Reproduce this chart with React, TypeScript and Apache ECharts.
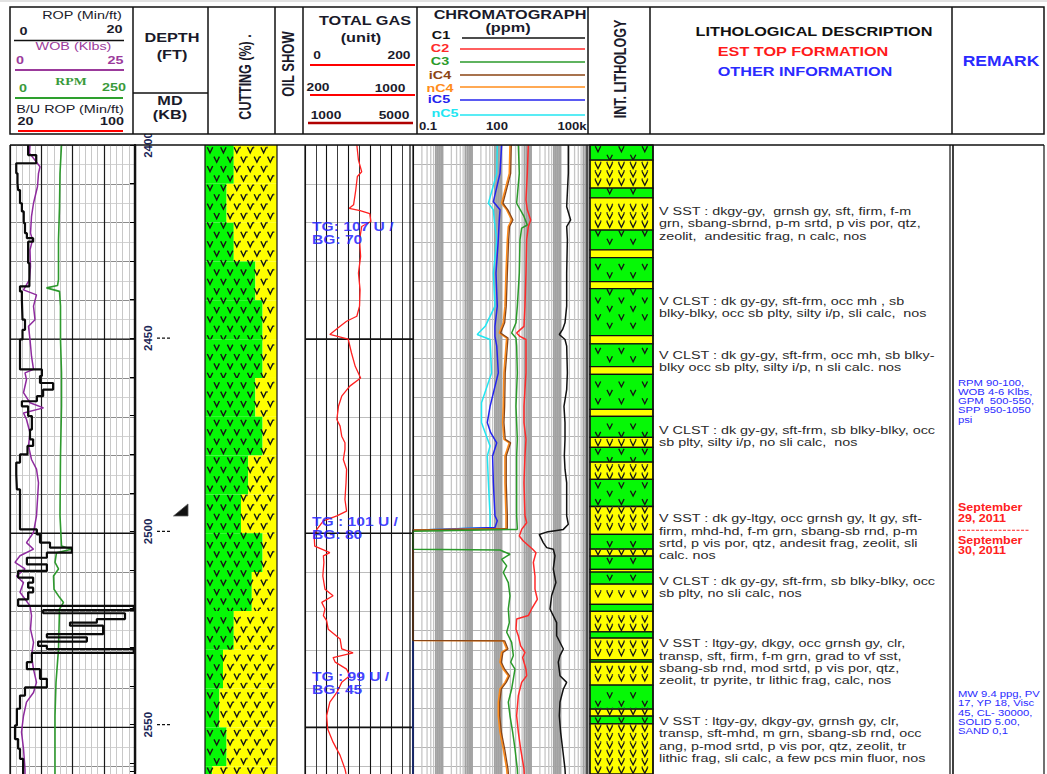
import React, { useEffect, useRef } from "react";
import * as echarts from "echarts";

const FONT = 'Arial, "Liberation Sans", Helvetica, sans-serif';
const SERIF = '"Times New Roman", "Liberation Serif", serif';
const SX = 1.25;

// ---------------- depth frame ----------------
const DEPTH_MIN = 2400;
const DEPTH_MAX = 2562;
const PX_PER_FT = 3.89;
const TOP = 145;
const GRID_H = (DEPTH_MAX - DEPTH_MIN) * PX_PER_FT;
const majorDepths = [2450, 2500, 2550];
const casingShoeDepth = [2496];

// ---------------- drilling parameters ----------------
const ropTop = [2400.0, 2402.6, 2404.7, 2407.3, 2409.9, 2411.6, 2415.0, 2417.1, 2420.1, 2422.7, 2424.0, 2424.9, 2430.4, 2436.4, 2437.7, 2439.9, 2445.0, 2447.6, 2450.1, 2457.8, 2459.5, 2461.3, 2463.0, 2464.7, 2466.0, 2467.3, 2469.8, 2473.3, 2475.8, 2477.5, 2479.7, 2481.8, 2484.8, 2488.7, 2499.0, 2500.3, 2502.4, 2503.7, 2505.0, 2506.3, 2508.0, 2509.7, 2511.4, 2512.7, 2514.0, 2515.2, 2517.0, 2518.7, 2519.8, 2520.6, 2522.1, 2523.0, 2523.8, 2526.0, 2526.8, 2527.9, 2529.0, 2529.8, 2530.8, 2533.2, 2535.0, 2537.5, 2539.7, 2541.8, 2545.2, 2549.5, 2553.0, 2555.5, 2558.1];
const ropVal = [2.9, 4.2, 1.0, 1.2, 1.3, 1.6, 1.9, 2.2, 2.4, 2.7, 3.7, 2.9, 3.1, 1.6, 1.9, 2.0, 2.4, 2.0, 1.6, 5.1, 4.8, 6.9, 5.3, 4.3, 1.9, 2.9, 3.5, 3.2, 3.7, 2.8, 1.6, 1.0, 1.1, 1.6, 4.3, 4.8, 6.4, 9.9, 5.9, 2.7, 5.9, 1.3, 3.7, 2.9, 3.7, 2.9, 1.3, 19.8, 5.3, 18.4, 13.9, 9.6, 14.9, 5.9, 12.3, 4.5, 5.9, 19.8, 3.5, 2.7, 4.8, 5.9, 2.4, 1.6, 1.1, 0.8, 1.3, 1.6, 2.1];

const wobDepth = [2400.0, 2402.1, 2405.6, 2407.3, 2410.7, 2415.0, 2418.4, 2422.7, 2424.4, 2427.0, 2431.3, 2434.7, 2437.3, 2438.6, 2441.5, 2445.0, 2446.7, 2450.1, 2454.4, 2457.8, 2458.7, 2460.4, 2463.8, 2466.4, 2467.7, 2469.0, 2470.7, 2474.1, 2477.5, 2481.0, 2483.5, 2487.0, 2491.3, 2495.5, 2499.8, 2502.4, 2504.1, 2505.8, 2507.5, 2509.2, 2511.0, 2512.7, 2515.2, 2518.7, 2521.2, 2524.7, 2528.1, 2531.5, 2535.0, 2538.4, 2541.0, 2543.5, 2547.0, 2551.2, 2555.5, 2560.7, 2562];
const wobVal = [4.0, 3.9, 6.0, 5.7, 5.5, 4.7, 4.3, 4.1, 4.5, 4.0, 4.1, 3.9, 2.7, 5.3, 4.7, 5.0, 3.7, 4.0, 4.3, 4.7, 3.0, 3.3, 2.7, 4.0, 6.7, 2.7, 3.3, 4.0, 3.7, 4.3, 5.3, 5.7, 5.5, 5.3, 4.7, 3.3, 4.7, 2.0, 1.0, 3.0, 1.3, 2.7, 2.0, 4.0, 4.3, 4.1, 4.7, 4.3, 4.7, 5.3, 4.7, 3.3, 2.7, 2.3, 2.7, 3.0, 3.0];

const rpmDepth = [2400.0, 2407.3, 2415.9, 2424.4, 2434.7, 2436.2, 2436.8, 2437.7, 2441.5, 2450.1, 2458.7, 2467.3, 2480.1, 2495.5, 2503.3, 2504.1, 2505.0, 2507.5, 2509.2, 2511.0, 2514.4, 2516.5, 2517.8, 2519.5, 2529.8, 2538.4, 2547.0, 2562];
const rpmVal = [103, 100, 99, 97, 97, 95, 73, 99, 101, 101, 103, 103, 101, 100, 103, 123, 93, 90, 97, 87, 88, 99, 107, 99, 97, 92, 90, 90];

// ---------------- cuttings (% claystone, remainder sandstone) ----------------
const cutTop = [2400, 2410, 2420, 2430, 2440, 2450, 2460, 2470, 2480, 2490, 2500, 2510, 2520, 2530, 2540, 2550, 2560];
const cutClst = [40, 30, 40, 70, 80, 80, 70, 80, 60, 50, 80, 65, 40, 25, 20, 30, 10];

// ---------------- total gas (unit) ----------------
const gasDepth = [2400.0, 2403.9, 2406.9, 2408.1, 2411.6, 2415.4, 2416.3, 2416.9, 2417.7, 2419.7, 2421.0, 2424.4, 2428.7, 2433.0, 2437.3, 2441.5, 2444.1, 2445.4, 2446.7, 2448.8, 2450.0, 2453.5, 2457.0, 2460.0, 2462.1, 2464.7, 2467.3, 2470.7, 2472.4, 2475.0, 2476.7, 2478.4, 2481.0, 2483.5, 2487.0, 2491.3, 2494.3, 2495.5, 2496.8, 2499.0, 2500.7, 2503.3, 2505.0, 2505.8, 2507.5, 2511.0, 2514.4, 2516.1, 2517.8, 2519.5, 2521.2, 2522.5, 2524.7, 2527.2, 2529.8, 2530.8, 2532.0, 2533.2, 2535.0, 2536.7, 2538.4, 2541.0, 2543.5, 2547.0, 2550.4, 2553.8, 2557.2, 2560.7, 2562];
const gasVal = [96, 99, 105, 97, 94, 90, 82, 102, 120, 122, 105, 101, 103, 99, 102, 101, 96, 77, 65, 46, 80, 86, 93, 103, 83, 68, 62, 59, 65, 68, 74, 74, 71, 77, 76, 74, 77, 59, 34, 22, 17, 18, 46, 34, 35, 33, 37, 52, 31, 37, 34, 40, 43, 65, 68, 89, 52, 56, 77, 83, 68, 59, 46, 40, 42, 52, 65, 74, 76];
const tgDepth = [2421.0, 2497.1, 2536.9];
const tgText = [["TG: 107 U /", "BG: 70"], ["TG : 101 U /", "BG: 80"], ["TG : 99 U /", "BG: 45"]];

// ---------------- chromatograph (ppm) ----------------
const c1Depth = [2400.0, 2407.3, 2415.9, 2419.3, 2421.0, 2424.4, 2433.0, 2441.5, 2445.8, 2447.5, 2448.8, 2450.1, 2451.8, 2458.7, 2463.0, 2467.3, 2471.5, 2475.8, 2480.1, 2483.5, 2487.0, 2495.5, 2497.7, 2499.0, 2499.7, 2500.3, 2502.4, 2503.7, 2504.1, 2505.8, 2509.2, 2512.7, 2516.1, 2519.5, 2523.0, 2526.4, 2529.8, 2531.5, 2533.2, 2536.7, 2538.4, 2540.1, 2543.5, 2547.0, 2551.2, 2555.5, 2560.7, 2562];
const c1Val = [18400, 18400, 16200, 22100, 16200, 17100, 16200, 16200, 14200, 11800, 9100, 14200, 16200, 17100, 16200, 13100, 14200, 14200, 13500, 14200, 16200, 16200, 18400, 12500, 3400, 1900, 2600, 3400, 5700, 6500, 5700, 7000, 5000, 4400, 7400, 7400, 12500, 9600, 8400, 9600, 16200, 12500, 9600, 9100, 10100, 11800, 14200, 14500];
const c2Depth = [2400.0, 2407.3, 2414.1, 2416.7, 2419.3, 2421.0, 2424.4, 2433.0, 2441.5, 2446.7, 2448.4, 2449.3, 2450.1, 2458.7, 2467.3, 2471.5, 2475.8, 2480.1, 2487.0, 2495.5, 2497.3, 2499.0, 2500.7, 2502.0, 2504.1, 2505.0, 2507.5, 2511.0, 2514.4, 2517.0, 2519.5, 2521.2, 2522.1, 2524.7, 2526.4, 2529.0, 2530.7, 2532.0, 2535.0, 2536.7, 2538.4, 2541.8, 2547.0, 2551.2, 2555.5, 2560.7, 2562];
const c2Val = [811, 750, 676, 750, 973, 811, 713, 676, 625, 578, 326, 424, 676, 676, 578, 578, 676, 625, 578, 625, 713, 482, 402, 549, 1140, 1475, 1200, 1365, 1365, 1637, 1050, 811, 326, 310, 372, 446, 625, 521, 676, 713, 482, 372, 326, 372, 446, 578, 590];
const c3Depth = [2400.0, 2407.3, 2415.0, 2418.4, 2420.6, 2421.4, 2424.4, 2433.0, 2441.5, 2445.8, 2448.4, 2449.7, 2451.8, 2458.7, 2467.3, 2475.8, 2480.1, 2487.0, 2495.5, 2499.0, 2499.5, 2504.1, 2504.3, 2505.4, 2506.7, 2508.4, 2510.1, 2512.7, 2516.1, 2519.5, 2523.0, 2525.5, 2528.1, 2531.5, 2533.2, 2535.0, 2537.5, 2540.1, 2543.5, 2547.0, 2551.2, 2555.5, 2560.7, 2562];
const c3Val = [372, 402, 326, 578, 750, 482, 424, 402, 344, 310, 221, 310, 326, 344, 310, 344, 326, 326, 326, 344, 0.1, 0.1, 89, 194, 101, 150, 115, 170, 194, 170, 184, 150, 221, 252, 205, 286, 252, 221, 170, 194, 239, 286, 344, 350];
const c4Depth = [2400.0, 2407.3, 2415.0, 2416.7, 2419.3, 2421.0, 2424.4, 2433.0, 2441.5, 2445.8, 2448.4, 2449.7, 2451.8, 2458.7, 2467.3, 2471.5, 2475.8, 2476.7, 2480.1, 2487.0, 2495.5, 2498.8, 2499.2, 2527.6, 2527.7, 2529.8, 2530.7, 2533.2, 2535.0, 2536.7, 2538.4, 2540.1, 2543.5, 2547.0, 2551.2, 2555.5, 2560.7, 2562];
const nc4Val = [194, 184, 101, 150, 221, 170, 158, 142, 131, 115, 84, 150, 142, 121, 115, 109, 121, 184, 131, 131, 142, 142, 0.1, 0.1, 115, 150, 101, 89, 115, 170, 131, 89, 78, 78, 89, 115, 150, 155];
const ic4Val = [215, 205, 112, 165, 245, 188, 175, 158, 145, 128, 93, 166, 158, 134, 128, 121, 134, 204, 145, 145, 158, 158, 0.1, 0.1, 128, 166, 112, 99, 128, 188, 145, 99, 87, 87, 99, 128, 166, 172];
const ic5Depth = [2400.0, 2407.3, 2414.6, 2416.7, 2419.3, 2424.4, 2433.0, 2441.5, 2446.7, 2449.3, 2451.8, 2458.7, 2467.3, 2471.5, 2474.1, 2476.7, 2480.1, 2487.0, 2495.5, 2496.8, 2498.5, 2499.2, 2562];
const ic5Val = [101, 89, 53, 89, 84, 78, 65, 72, 60, 60, 69, 78, 41, 33, 43, 69, 50, 53, 60, 72, 60, 0.1, 0.1];
const nc5Depth = [2400.0, 2407.3, 2415.0, 2416.7, 2419.3, 2424.4, 2433.0, 2441.5, 2446.7, 2448.8, 2450.1, 2458.7, 2466.4, 2471.5, 2474.1, 2477.5, 2480.1, 2487.0, 2495.5, 2498.5, 2499.2, 2562];
const nc5Val = [72, 69, 36, 53, 57, 69, 53, 60, 28, 15, 41, 46, 21, 21, 28, 41, 33, 36, 41, 41, 0.1, 0.1];

// ---------------- interpreted lithology ----------------
const litTop = [2400, 2403.9, 2411.1, 2413.6, 2421.9, 2427.0, 2429.0, 2435.2, 2437.0, 2449.1, 2451.2, 2457.1, 2459.1, 2468.1, 2469.9, 2475.3, 2477.9, 2481.7, 2486.1, 2493.1, 2500.3, 2504.1, 2505.9, 2509.3, 2510.0, 2513.1, 2518.3, 2520.1, 2525.4, 2527.0, 2532.6, 2533.2, 2539.1, 2545.3, 2547.1, 2549.1];
const litType = ["CLST", "SST", "CLST", "SST", "CLST", "SST", "CLST", "SST", "CLST", "SST", "CLST", "SST", "CLST", "SST", "CLST", "SST", "CLST", "SST", "CLST", "SST", "CLST", "SST", "CLST", "SST", "CLST", "SST", "CLST", "SST", "CLST", "SST", "CLST", "SST", "CLST", "SST", "CLST", "SST"];

// ---------------- descriptions & remarks ----------------
const descDepth = [2417.0, 2440.1, 2454.0, 2473.3, 2496.1, 2512.3, 2528.3, 2548.3];
const descLines = [
  ["V SST : dkgy-gy,  grnsh gy, sft, firm, f-m", "grn, sbang-sbrnd, p-m srtd, p vis por, qtz,", "zeolit,  andesitic frag, n calc, nos"],
  ["V CLST : dk gy-gy, sft-frm, occ mh , sb", "blky-blky, occ sb plty, silty i/p, sli calc,  nos"],
  ["V CLST : dk gy-gy, sft-frm, occ mh, sb blky-", "blky occ sb plty, silty i/p, n sli calc. nos"],
  ["V CLST : dk gy-gy, sft-frm, sb blky-blky, occ", "sb plty, silty i/p, no sli calc,  nos"],
  ["V SST : dk gy-ltgy, occ grnsh gy, lt gy, sft-", "firm, mhd-hd, f-m grn, sbang-sb rnd, p-m", "srtd, p vis por, qtz, andesit frag, zeolit, sli", "calc. nos"],
  ["V CLST : dk gy-gy, sft-frm, sb blky-blky, occ", "sb plty, no sli calc, nos"],
  ["V SST : ltgy-gy, dkgy, occ grnsh gy, clr,", "transp, sft, firm, f-m grn, grad to vf sst,", "sbang-sb rnd, mod srtd, p vis por, qtz,", "zeolit, tr pyrite, tr lithic frag, calc, nos"],
  ["V SST : ltgy-gy, dkgy-gy, grnsh gy, clr,", "transp, sft-mhd, m grn, sbang-sb rnd, occ", "ang, p-mod srtd, p vis por, qtz, zeolit, tr", "lithic frag, sli calc, a few pcs min fluor, nos"],
];
const remarkDepth = [2461.2, 2493.3, 2541.4];
const remarkKind = ["info", "date", "info"];
const remarkLines = [
  ["RPM 90-100,", "WOB 4-6 Klbs,", "GPM  500-550,", "SPP 950-1050", "psi"],
  ["September", "29, 2011", "September", "30, 2011"],
  ["MW 9.4 ppg, PV", "17, YP 18, Visc", "45, CL- 30000,", "SOLID 5.00,", "SAND 0,1"],
];

const GREEN = "#06f806";
const YELLOW = "#ffff00";

function vGlyph(cx: number, cy: number, hw: number, hh: number, lw: number) {
  return {
    type: "polyline",
    shape: { points: [[cx - hw, cy - hh], [cx, cy + hh], [cx + hw, cy - hh]] },
    style: { stroke: "#151515", fill: "none", lineWidth: lw },
  };
}

function txtEl(x: number, y: number, text: string, o: any = {}) {
  const rot = o.rot || 0;
  const al = o.align || "center";
  return {
    type: "text",
    x,
    y,
    rotation: rot,
    scaleX: rot ? 1 : o.sx ?? SX,
    scaleY: rot ? o.sx ?? SX : 1,
    z: 60,
    silent: true,
    style: {
      text,
      x: 0,
      y: 0,
      fill: o.color || "#1a1a2a",
      font: `${o.weight || "bold"} ${o.size || 13}px ${o.family || FONT}`,
      textAlign: al,
      textVerticalAlign: "middle",
      align: al,
      verticalAlign: "middle",
    },
  };
}
function hl(x1: number, x2: number, y: number, color = "#111", w = 1.5, z = 60) {
  return { type: "line", z, silent: true, shape: { x1, y1: y, x2, y2: y }, style: { stroke: color, lineWidth: w } };
}
function vl(x: number, y1: number, y2: number, color = "#111", w = 1.5, z = 60) {
  return { type: "line", z, silent: true, shape: { x1: x, y1, x2: x, y2 }, style: { stroke: color, lineWidth: w } };
}

function buildHeader() {
  const g: any[] = [];
  g.push({ type: "rect", z: 2, silent: true, shape: { x: 0, y: 0, width: 1047, height: 2 }, style: { fill: "#e2e2e2" } });
  g.push({ type: "rect", z: 58, silent: true, shape: { x: 10, y: 7, width: 1034, height: 127 }, style: { fill: "#fff", stroke: "#111", lineWidth: 1.5 } });
  [133, 208, 275, 303, 417, 588, 650, 952].forEach((x) => g.push(vl(x, 7, 134)));
  g.push(hl(133, 208, 93));
  // track 1
  g.push(txtEl(82, 15, "ROP (Min/ft)", { weight: "normal", size: 11.5 }));
  g.push(txtEl(23.5, 31, "0", { size: 11.5 }));
  g.push(txtEl(114.5, 29, "20", { size: 11.5 }));
  g.push(hl(14, 124, 40.5, "#111", 1.5));
  g.push(txtEl(73.5, 46, "WOB (Klbs)", { weight: "normal", size: 11.5, color: "#9b3a9b" }));
  g.push(txtEl(20, 60, "0", { size: 11.5, color: "#9b3a9b" }));
  g.push(txtEl(115.5, 60, "25", { size: 11.5, color: "#9b3a9b" }));
  g.push(hl(15, 124, 70, "#9b3a9b", 1.8));
  g.push(txtEl(71, 81, "RPM", { size: 11, family: SERIF, color: "#3a9a3a" }));
  g.push(txtEl(23, 88, "0", { size: 11.5, color: "#3a9a3a" }));
  g.push(txtEl(114, 87, "250", { size: 11.5, color: "#3a9a3a" }));
  g.push(hl(15, 123, 98, "#2ea02e", 1.8));
  g.push(txtEl(70, 109, "B/U ROP (Min/ft)", { weight: "normal", size: 11.5 }));
  g.push(txtEl(25.5, 121, "20", { size: 11.5 }));
  g.push(txtEl(112, 121, "100", { size: 11.5 }));
  g.push(hl(18, 123, 131, "#ff0000", 1.8));
  // depth
  g.push(txtEl(172, 38, "DEPTH"));
  g.push(txtEl(172, 55, "(FT)"));
  g.push(txtEl(170, 101, "MD"));
  g.push(txtEl(170, 115, "(KB)"));
  // cutting & oil show
  g.push(txtEl(245, 77, "CUTTING (%) .", { rot: Math.PI / 2, size: 12.5 }));
  g.push(txtEl(288, 64, "OIL SHOW", { rot: Math.PI / 2, size: 13 }));
  // total gas
  g.push(txtEl(365, 21, "TOTAL GAS"));
  g.push(txtEl(361, 38, "(unit)"));
  g.push(txtEl(317, 55, "0", { size: 11 }));
  g.push(txtEl(399, 55, "200", { size: 11 }));
  g.push(hl(310, 415, 65, "#ff0000", 2));
  g.push(txtEl(318, 87, "200", { size: 11 }));
  g.push(txtEl(390, 88, "1000", { size: 11 }));
  g.push(hl(310, 415, 95, "#ff0000", 2));
  g.push(txtEl(326, 115, "1000", { size: 11 }));
  g.push(txtEl(394, 115, "5000", { size: 11 }));
  g.push(hl(308, 413, 123, "#b00000", 2.5));
  // chromatograph
  g.push(txtEl(510, 15, "CHROMATOGRAPH"));
  g.push(txtEl(508, 28, "(ppm)"));
  const leg = [
    ["C1", "#111111", 441, 35, 462, 38],
    ["C2", "#ff2a2a", 440, 48, 460, 49],
    ["C3", "#2a9a2a", 440, 61, 460, 62],
    ["iC4", "#8b4513", 440, 75, 460, 75],
    ["nC4", "#ff8c1a", 440, 88, 460, 87],
    ["iC5", "#2323ee", 439, 99.5, 460, 100],
    ["nC5", "#22e6f2", 445, 113.5, 460, 115],
  ];
  leg.forEach(([t, c, tx, ty, lx, ly]: any) => {
    g.push(txtEl(tx, ty, t, { size: 11.5, color: c }));
    g.push(hl(lx, 585, ly, c, 1.5));
  });
  g.push(txtEl(428, 126, "0.1", { size: 10.5 }));
  g.push(txtEl(497, 126, "100", { size: 10.5 }));
  g.push(txtEl(572, 126, "100k", { size: 10.5 }));
  // lithology
  g.push(txtEl(620, 69, "INT. LITHOLOGY", { rot: Math.PI / 2, size: 12.5 }));
  g.push(txtEl(814, 32, "LITHOLOGICAL DESCRIPTION", { color: "#111" }));
  g.push(txtEl(803, 52, "EST TOP FORMATION", { color: "#ff1a1a" }));
  g.push(txtEl(805, 72, "OTHER INFORMATION", { color: "#2a2aff" }));
  g.push(txtEl(1001, 61, "REMARK", { size: 14, color: "#2a2aff" }));

  // data-area frame
  const yb = 774;
  g.push(hl(10, 1044, TOP, "#111", 1.5, 55));
  [
    [10, 1.2], [135, 2.2], [205, 1.2], [277, 1.2], [305, 1.2], [410, 1.2], [413, 1.2],
    [587, 1.2], [590, 1.2], [653, 1.5], [950, 1.2], [953, 1.6], [1044, 1.2],
  ].forEach(([x, w]) => g.push(vl(x, TOP, yb, "#111", w, 55)));
  return g;
}

function buildOption() {
  const tracks = [
    [10, 125], // 0 drilling
    [135, 37], // 1 depth
    [205, 72], // 2 cutting
    [305, 108], // 3 total gas
    [413, 177], // 4 chromatograph
    [590, 63], // 5 lithology
    [653, 297], // 6 description
    [953, 91], // 7 remark
  ];
  const grid = tracks.map(([l, w]) => ({ left: l, top: TOP, width: w, height: GRID_H, show: false, containLabel: false }));

  const yBase = (i: number, extra: any = {}) => ({
    type: "value", gridIndex: i, min: DEPTH_MIN, max: DEPTH_MAX, inverse: true, interval: 10,
    axisLine: { show: false }, axisTick: { show: false }, axisLabel: { show: false }, splitLine: { show: false },
    ...extra,
  });
  const yAxis = [
    yBase(0, {
      splitLine: { show: true, lineStyle: { color: "#8c8c8c", width: 1 } },
      minorTick: { show: false, splitNumber: 2 },
      minorSplitLine: { show: true, lineStyle: { color: "#d2d2d2", width: 1 } },
    }),
    yBase(1, {
      position: "right",
      axisLine: { show: true, lineStyle: { color: "#000", width: 2.2 } },
      axisTick: { show: true, inside: true, length: 5, lineStyle: { color: "#000", width: 1 } },
      axisLabel: {
        show: true, inside: true, rotate: 90, margin: 18,
        formatter: (v: number) => (v % 50 === 0 ? String(v) : ""),
        color: "#1c2757", fontSize: 11.5, fontWeight: "bold", fontFamily: FONT,
      },
    }),
    yBase(2),
    yBase(3, { splitLine: { show: true, lineStyle: { color: "#bdbdbd", width: 1 } } }),
    yBase(4, { interval: 5, splitLine: { show: true, lineStyle: { color: "#b4b4b4", width: 1.2 } } }),
    yBase(5),
    yBase(6),
    yBase(7),
  ];

  const xHidden = (gi: number, min: number, max: number) => ({ type: "value", gridIndex: gi, min, max, show: false });
  const xAxis = [
    {
      type: "value", gridIndex: 0, min: 0, max: 20, interval: 5,
      axisLine: { show: false }, axisTick: { show: false }, axisLabel: { show: false },
      splitLine: { show: true, lineStyle: { color: "#1a1a1a", width: 1.2 } },
      minorTick: { show: false, splitNumber: 5 },
      minorSplitLine: { show: true, lineStyle: { color: "#c8c8c8", width: 1 } },
    },
    xHidden(0, 0, 25),
    xHidden(0, 0, 250),
    xHidden(1, 0, 1),
    xHidden(2, 0, 100),
    {
      type: "value", gridIndex: 3, min: 0, max: 200, interval: 40,
      axisLine: { show: false }, axisTick: { show: false }, axisLabel: { show: false },
      splitLine: { show: true, lineStyle: { color: "#111", width: 1.1 } },
      minorTick: { show: false, splitNumber: 2 },
      minorSplitLine: { show: true, lineStyle: { color: "#3c3c3c", width: 1 } },
    },
    { type: "log", logBase: 10, gridIndex: 4, min: 0.1, max: 100000, show: false },
    xHidden(5, 0, 1),
    xHidden(6, 0, 1),
    xHidden(7, 0, 1),
  ];

  // log-cycle grid positions of the chromatograph scale: [value, depth, multiplier]
  const decades = [0.1, 1, 10, 100, 1000, 10000];
  const chromaGrid: number[][] = [];
  decades.forEach((d, di) => {
    for (let m = 1; m <= 9; m++) if (!(di === 0 && m === 1)) chromaGrid.push([d * m, DEPTH_MIN, m]);
  });

  const series: any[] = [];

  // chromatograph vertical grid
  series.push({
    type: "custom", xAxisIndex: 6, yAxisIndex: 4, silent: true, z: 1,
    data: chromaGrid,
    renderItem: (params: any, api: any) => {
      const cs = params.coordSys;
      const x = api.coord([api.value(0), DEPTH_MIN])[0];
      const m = api.value(2);
      const dense = m === 1 || m >= 6;
      return {
        type: "line",
        shape: { x1: x, y1: cs.y, x2: x, y2: cs.y + cs.height },
        style: { stroke: dense ? "#a2a2a2" : "#c6c6c6", lineWidth: dense ? 1.9 : 1.3 },
      };
    },
  });

  // 50 ft lines in drilling & gas tracks, and long depth ticks
  const majorLine = (xi: number, yi: number, color: string, w: number) => ({
    type: "custom", xAxisIndex: xi, yAxisIndex: yi, silent: true, z: 2,
    data: majorDepths.map((d) => [0, d]),
    renderItem: (params: any, api: any) => {
      const cs = params.coordSys;
      const y = api.coord([0, api.value(1)])[1];
      return { type: "line", shape: { x1: cs.x, y1: y, x2: cs.x + cs.width, y2: y }, style: { stroke: color, lineWidth: w } };
    },
  });
  series.push(majorLine(0, 0, "#111", 1.3));
  series.push(majorLine(5, 3, "#111", 1.6));
  series.push({
    type: "custom", xAxisIndex: 3, yAxisIndex: 1, silent: true, z: 2,
    data: majorDepths.map((d) => [0, d]),
    renderItem: (params: any, api: any) => {
      const cs = params.coordSys;
      const y = api.coord([0, api.value(1)])[1];
      const xr = cs.x + cs.width;
      return { type: "line", shape: { x1: xr - 15, y1: y, x2: xr, y2: y }, style: { stroke: "#111", lineWidth: 1.3, lineDash: [3, 2] } };
    },
  });
  // casing shoe
  series.push({
    type: "custom", xAxisIndex: 3, yAxisIndex: 1, silent: true, z: 5,
    data: casingShoeDepth.map((d) => [0, d]),
    renderItem: (params: any, api: any) => {
      const cs = params.coordSys;
      const y = api.coord([0, api.value(1)])[1];
      const x0 = cs.x + cs.width;
      return {
        type: "polygon",
        shape: { points: [[x0 + 1.5, y], [x0 + 16, y - 12], [x0 + 16, y]] },
        style: { fill: "#111", stroke: "#555", lineWidth: 0.8 },
      };
    },
  });

  // drilling curves
  const ropPts: number[][] = [];
  ropTop.forEach((d, i) => {
    const next = i + 1 < ropTop.length ? ropTop[i + 1] : DEPTH_MAX;
    ropPts.push([ropVal[i], d]);
    ropPts.push([ropVal[i], next]);
  });
  const lineS = (xi: number, yi: number, pts: number[][], color: string, w: number, z = 4) => ({
    type: "line", xAxisIndex: xi, yAxisIndex: yi, data: pts, showSymbol: false, symbol: "none",
    silent: true, z, lineStyle: { color, width: w }, emphasis: { disabled: true },
  });
  series.push(lineS(2, 0, rpmVal.map((v, i) => [v, rpmDepth[i]]), "#2e9a2e", 1.6));
  series.push(lineS(1, 0, wobVal.map((v, i) => [v, wobDepth[i]]), "#8e2a9e", 1.5));
  series.push(lineS(0, 0, ropPts, "#0a0a0a", 2.2, 5));

  // cuttings
  series.push({
    type: "custom", xAxisIndex: 4, yAxisIndex: 2, silent: true, z: 3,
    data: cutTop.map((d, i) => [cutClst[i], d, i]),
    renderItem: (params: any, api: any) => {
      const cs = params.coordSys;
      const i = api.value(2);
      const top = cutTop[i];
      const bot = Math.min(i + 1 < cutTop.length ? cutTop[i + 1] : DEPTH_MAX, DEPTH_MAX);
      const y1 = api.coord([0, top])[1];
      const y2 = Math.min(api.coord([0, bot])[1], cs.y + cs.height);
      const xL = cs.x, xR = cs.x + cs.width;
      const xP = api.coord([cutClst[i], top])[0];
      const ch: any[] = [
        { type: "rect", shape: { x: xL, y: y1, width: xP - xL, height: y2 - y1 }, style: { fill: GREEN } },
        { type: "rect", shape: { x: xP, y: y1, width: xR - xP, height: y2 - y1 }, style: { fill: YELLOW } },
      ];
      const rowH = 9.4, colW = 13.4;
      const k0 = Math.max(0, Math.floor((y1 - cs.y - 5) / rowH));
      for (let k = k0; ; k++) {
        const cy = cs.y + 5 + k * rowH;
        if (cy >= y2) break;
        if (cy < y1) continue;
        const off = k % 2 ? colW / 2 : 0;
        for (let cx = xL + 5 + off; cx <= xR - 3; cx += colW) {
          ch.push(vGlyph(cx, cy, 2.7, 2.8, 1.4));
          if (cx > xP + 2) ch.push({ type: "circle", shape: { cx: cx + colW / 4, cy: cy - 2.5, r: 0.8 }, style: { fill: "#333" } });
        }
      }
      return { type: "group", children: ch };
    },
  });

  // total gas
  series.push(lineS(5, 3, gasVal.map((v, i) => [v, gasDepth[i]]), "#ff2020", 1.3));
  series.push({
    type: "custom", xAxisIndex: 5, yAxisIndex: 3, silent: true, z: 6,
    data: tgDepth.map((d, i) => [13, d, i]),
    renderItem: (params: any, api: any) => {
      const p = api.coord([api.value(0), api.value(1)]);
      const i = api.value(2);
      return {
        type: "group",
        children: tgText[i].map((s, j) => ({
          type: "text", x: p[0], y: p[1] + j * 13, scaleX: SX,
          style: { text: s, x: 0, y: 0, fill: "rgba(35,35,255,0.85)", font: `bold 12.5px ${FONT}`, textAlign: "left", textVerticalAlign: "middle", align: "left", verticalAlign: "middle" },
        })),
      };
    },
  });

  // chromatograph
  series.push(lineS(6, 4, nc5Val.map((v, i) => [v, nc5Depth[i]]), "#22e6f2", 1.5));
  series.push(lineS(6, 4, ic5Val.map((v, i) => [v, ic5Depth[i]]), "#2323ee", 1.5));
  series.push(lineS(6, 4, nc4Val.map((v, i) => [v, c4Depth[i]]), "#ff8c1a", 1.6));
  series.push(lineS(6, 4, ic4Val.map((v, i) => [v, c4Depth[i]]), "#8b4513", 1.3));
  series.push(lineS(6, 4, c3Val.map((v, i) => [v, c3Depth[i]]), "#2a9a2a", 1.5));
  series.push(lineS(6, 4, c2Val.map((v, i) => [v, c2Depth[i]]), "#ff2a2a", 1.5));
  series.push(lineS(6, 4, c1Val.map((v, i) => [v, c1Depth[i]]), "#111111", 1.5));

  // interpreted lithology
  series.push({
    type: "custom", xAxisIndex: 7, yAxisIndex: 5, silent: true, z: 3,
    data: litTop.map((d, i) => [0.5, d, i]),
    renderItem: (params: any, api: any) => {
      const cs = params.coordSys;
      const i = api.value(2);
      const top = litTop[i];
      const bot = i + 1 < litTop.length ? litTop[i + 1] : DEPTH_MAX;
      const y1 = api.coord([0, top])[1];
      const y2 = Math.min(api.coord([0, bot])[1], cs.y + cs.height + 2);
      const xL = cs.x, xR = cs.x + cs.width;
      const isClst = litType[i] === "CLST";
      const ch: any[] = [
        { type: "rect", shape: { x: xL, y: y1, width: xR - xL, height: y2 - y1 }, style: { fill: isClst ? GREEN : YELLOW, stroke: "#111", lineWidth: 1.3 } },
      ];
      const rowH = 8.4, colW = 23.4;
      const k0 = Math.max(0, Math.floor((y1 - cs.y - 4) / rowH));
      for (let k = k0; ; k++) {
        const cy = cs.y + 4 + k * rowH;
        if (cy >= y2 - 2) break;
        if (cy < y1 + 2) continue;
        if (isClst) {
          const off = k % 2 ? colW / 2 : 0;
          for (let cx = xL + 8 + off; cx <= xR - 3; cx += colW) ch.push(vGlyph(cx, cy, 2.7, 2.7, 1.3));
        } else {
          for (let cx = xL + 8; cx <= xR - 3; cx += colW / 2) {
            ch.push(vGlyph(cx, cy, 2.7, 2.7, 1.3));
            ch.push({ type: "circle", shape: { cx: cx - 2.7, cy: cy - 3.4, r: 0.75 }, style: { fill: "#333" } });
            ch.push({ type: "circle", shape: { cx: cx + 2.7, cy: cy - 3.4, r: 0.75 }, style: { fill: "#333" } });
          }
        }
      }
      return { type: "group", children: ch };
    },
  });

  // lithological description
  series.push({
    type: "custom", xAxisIndex: 8, yAxisIndex: 6, silent: true, z: 6,
    data: descDepth.map((d, i) => [0, d, i]),
    renderItem: (params: any, api: any) => {
      const cs = params.coordSys;
      const i = api.value(2);
      const y0 = api.coord([0, api.value(1)])[1];
      return {
        type: "group",
        children: descLines[i].map((s, j) => ({
          type: "text", x: cs.x + 6, y: y0 + j * 12.4, scaleX: SX,
          style: { text: s, x: 0, y: 0, fill: "#2a2a2a", font: `11.5px ${FONT}`, textAlign: "left", textVerticalAlign: "middle", align: "left", verticalAlign: "middle" },
        })),
      };
    },
  });

  // remarks
  series.push({
    type: "custom", xAxisIndex: 9, yAxisIndex: 7, silent: true, z: 6,
    data: remarkDepth.map((d, i) => [0, d, i]),
    renderItem: (params: any, api: any) => {
      const cs = params.coordSys;
      const i = api.value(2);
      const y0 = api.coord([0, api.value(1)])[1];
      const x0 = cs.x + 5;
      const lines = remarkLines[i];
      const ch: any[] = [];
      if (remarkKind[i] === "date") {
        const offs = [0, 11.5, 33, 43.5];
        lines.forEach((s, j) => ch.push({
          type: "text", x: x0, y: y0 + offs[j], scaleX: SX,
          style: { text: s, x: 0, y: 0, fill: "#ff2020", font: `bold 10px ${FONT}`, textAlign: "left", textVerticalAlign: "middle", align: "left", verticalAlign: "middle" },
        }));
        ch.push({ type: "line", shape: { x1: x0, y1: y0 + 23, x2: x0 + 72, y2: y0 + 23 }, style: { stroke: "#ff2020", lineWidth: 1, lineDash: [3, 1.5] } });
      } else {
        lines.forEach((s, j) => ch.push({
          type: "text", x: x0, y: y0 + j * 9.2, scaleX: SX,
          style: { text: s, x: 0, y: 0, fill: "#2b2bff", font: `9px ${FONT}`, textAlign: "left", textVerticalAlign: "middle", align: "left", verticalAlign: "middle" },
        }));
      }
      return { type: "group", children: ch };
    },
  });

  return {
    animation: false,
    backgroundColor: "#ffffff",
    grid,
    xAxis,
    yAxis,
    series,
    graphic: buildHeader(),
  };
}

export default function App() {
  const ref = useRef<HTMLDivElement>(null);
  useEffect(() => {
    if (!ref.current) return;
    const chart = echarts.init(ref.current, null, { renderer: "svg" });
    chart.setOption(buildOption() as any);
    return () => chart.dispose();
  }, []);
  return (
    <div
      ref={ref}
      style={{ position: "absolute", left: 0, top: 0, width: 1047, height: 774, background: "#fff" }}
    />
  );
}
